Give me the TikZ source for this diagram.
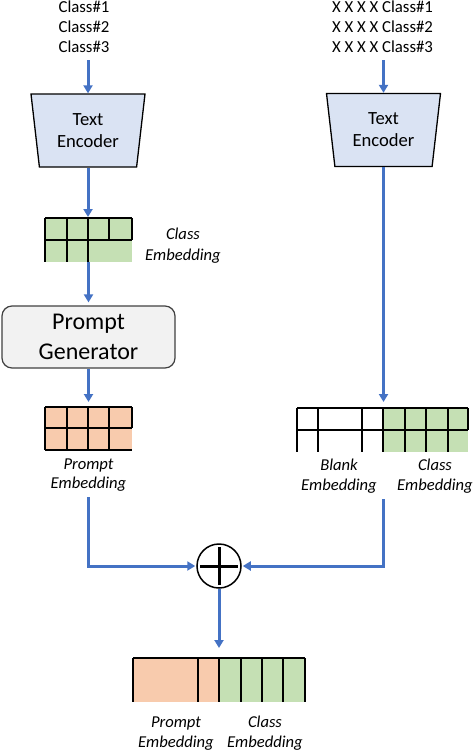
\documentclass[tikz,border=0pt]{standalone}
\usepackage{fontspec}
\setmainfont{Carlito}
\usetikzlibrary{arrows.meta,shapes.geometric}
\definecolor{arrowblue}{HTML}{4472C4}
\definecolor{cgreen}{HTML}{C5E0B4}
\definecolor{corange}{HTML}{F8CBAD}
\definecolor{encblue}{HTML}{DAE3F3}
\definecolor{gengray}{HTML}{F2F2F2}
\definecolor{genborder}{HTML}{404040}
\begin{document}
\begin{tikzpicture}[x=1pt,y=-1pt,
  flow/.style={draw=arrowblue, line width=3pt, -{Triangle[length=8pt,width=9pt]}},
  gridline/.style={draw=black, line width=1.3pt},
  cellfill/.style={inner sep=0pt, outer sep=0pt, draw=none},
  linetext/.style={anchor=base, inner sep=0pt, font=\fontsize{16.8}{20}\selectfont},
  embtext/.style={anchor=base, inner sep=0pt, font=\fontsize{16.6}{20}\selectfont\itshape},
  encoder/.style={trapezium, trapezium angle=76.15, shape border rotate=180,
    trapezium stretches body, minimum width=114pt, minimum height=73pt,
    inner sep=0pt, draw=black, line width=1.3pt, fill=encblue,
    align=center, font=\fontsize{18.6}{22}\selectfont},
  generator/.style={rectangle, rounded corners=10pt, draw=genborder, line width=1.2pt,
    fill=gengray, minimum width=173pt, minimum height=62pt, inner sep=0pt,
    align=center, font=\fontsize{24}{30}\selectfont},
  oplus/.style={circle, draw=black, line width=1.5pt, minimum size=44pt, inner sep=0pt}
  ]
\useasboundingbox (0,0) rectangle (474,750);

% input texts
\node[linetext] (l1) at (84,12) {Class\#1};
\node[linetext] (l2) at (84,32) {Class\#2};
\node[linetext] (l3) at (84,52) {Class\#3};
\node[linetext] (r1) at (382.5,12) {X X X X Class\#1};
\node[linetext] (r2) at (382.5,32) {X X X X Class\#2};
\node[linetext] (r3) at (382.5,52) {X X X X Class\#3};

% encoders
\node[encoder] (encL) at (88,130.5) {\raisebox{-2.5pt}{Text}\\\raisebox{-2.5pt}{Encoder}};
\node[encoder] (encR) at (383.5,130) {Text\\Encoder};

% class embedding (left)
\node[cellfill, fill=cgreen, minimum width=87pt, minimum height=44pt] (ce) at (88.5,240) {};
\draw[gridline] (45,218) -- (45,262);
\draw[gridline] (45,218) -- (132,218);
\draw[gridline] (45,240) -- (132,240);
\draw[gridline] (132,218) -- (132,240);
\draw[gridline] (67,218) -- (67,262);
\draw[gridline] (88,218) -- (88,262);
\draw[gridline] (109,218) -- (109,240);
\node[embtext] (ceA) at (183,239) {Class};
\node[embtext] (ceB) at (183,260) {Embedding};

% prompt generator
\node[generator] (gen) at (88.5,337) {Prompt\\Generator};

% prompt embedding
\node[cellfill, fill=corange, minimum width=87pt, minimum height=43pt] (pe) at (88.5,428.5) {};
\draw[gridline] (45,407) -- (45,450);
\draw[gridline] (45,407) -- (132,407);
\draw[gridline] (45,428) -- (132,428);
\draw[gridline] (45,450) -- (132,450);
\draw[gridline] (132,407) -- (132,428);
\draw[gridline] (67,407) -- (67,450);
\draw[gridline] (88,407) -- (88,450);
\draw[gridline] (109,407) -- (109,450);
\node[embtext] (peA) at (88.5,469) {Prompt};
\node[embtext] (peB) at (88.5,488) {Embedding};

% blank + class embedding
\node[cellfill, minimum width=171pt, minimum height=44pt] (bce) at (382.5,430) {};
\node[cellfill, fill=cgreen, minimum width=85pt, minimum height=44pt] (cpart) at (425.5,430) {};
\draw[gridline] (297,408) -- (297,452);
\draw[gridline] (297,408) -- (468,408);
\draw[gridline] (297,430) -- (468,430);
\draw[gridline] (468,408) -- (468,430);
\foreach \xx in {318,362,383,405,426,448} {\draw[gridline] (\xx,408) -- (\xx,452);}
\node[embtext] (bA) at (339,470) {Blank};
\node[embtext] (bB) at (339,490) {Embedding};
\node[embtext] (cA) at (435,470) {Class};
\node[embtext] (cB) at (435,490) {Embedding};

% plus
\node[oplus] (plus) at (219,566) {};
\draw[line width=3pt] ([xshift=-19pt]plus.center) -- ([xshift=19pt]plus.center);
\draw[line width=3pt] ([yshift=-19pt]plus.center) -- ([yshift=19pt]plus.center);

% final embedding
\node[cellfill, fill=corange, minimum width=86pt, minimum height=44pt] (fp) at (176,680) {};
\node[cellfill, fill=cgreen, minimum width=86pt, minimum height=44pt] (fc) at (262,680) {};
\draw[gridline] (133,658) -- (133,702);
\draw[gridline] (133,658) -- (305,658);
\draw[gridline] (305,658) -- (305,702);
\foreach \xx in {198,219,241,262,283} {\draw[gridline] (\xx,658) -- (\xx,702);}
\node[embtext] (fpA) at (176,727) {Prompt};
\node[embtext] (fpB) at (176,747) {Embedding};
\node[embtext] (fcA) at (265,727) {Class};
\node[embtext] (fcB) at (265,747) {Embedding};

% connectors
\draw[flow] ([yshift=-8pt]l3.south -| encL.north) -- (encL.north);
\draw[flow] ([yshift=-8pt]r3.south -| encR.north) -- (encR.north);
\draw[flow, shorten >=1pt] (encL.south) -- (encL.south |- ce.north);
\draw[flow, shorten >=3pt] (ce.south) -- (gen.north);
\draw[flow, shorten >=5pt] (gen.south) -- (gen.south |- pe.north);
\draw[flow, shorten >=6pt] (encR.south) -- (encR.south |- bce.north);
\draw[flow, shorten >=1pt] ([yshift=-6pt]peB.south -| pe.south) |- (plus.west);
\draw[flow, shorten >=1pt] ([yshift=-6pt]cB.south -| cpart.south west) |- (plus.east);
\draw[flow, shorten >=10pt] (plus.south) -- (plus.south |- fp.north);
\end{tikzpicture}
\end{document}
